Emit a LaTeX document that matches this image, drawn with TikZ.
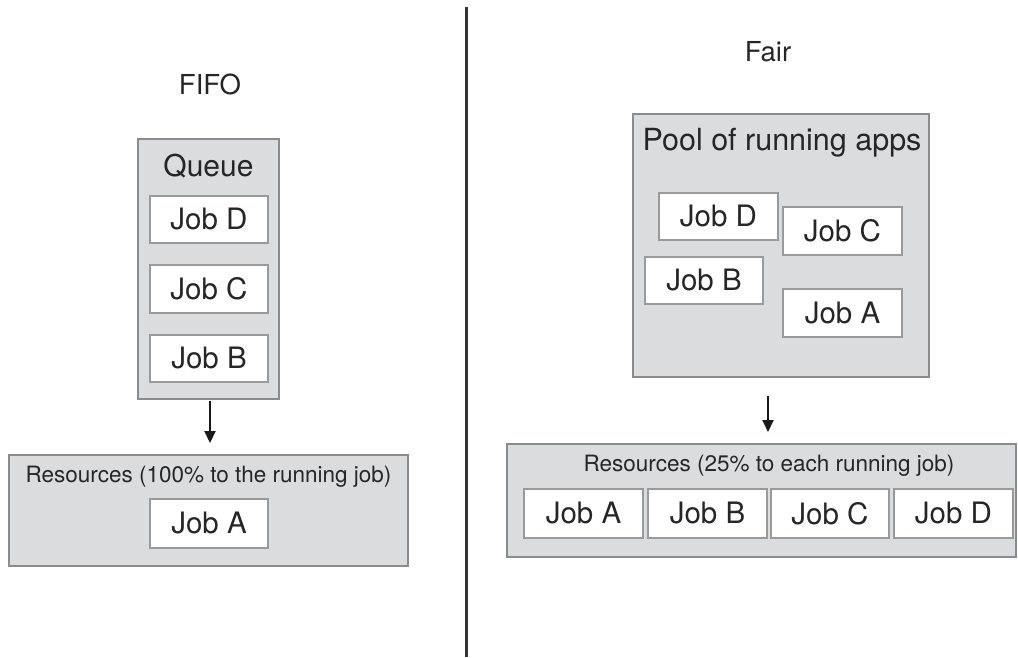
\documentclass[tikz,border=0pt]{standalone}
\usepackage{fontspec}
\setmainfont{TeX Gyre Heros}
\usetikzlibrary{arrows.meta}
\definecolor{boxfill}{HTML}{DADCDE}
\definecolor{boxline}{HTML}{8A8B8C}
\definecolor{jobline}{HTML}{9A9A9A}
\definecolor{txt}{HTML}{262626}
\tikzset{
  grp/.style={draw=boxline, fill=boxfill, line width=2pt, inner sep=0pt, rectangle},
  job/.style={draw=jobline, fill=white, line width=2pt, inner sep=0pt, rectangle, text=txt,
    font=\fontsize{29.5}{32}\selectfont},
  lbl/.style={inner sep=0pt, text=txt},
  arr/.style={line width=2pt, draw=black!90, -{Triangle[length=12pt,width=11pt]}},
}
\begin{document}
\begin{tikzpicture}[x=1pt,y=-1pt]
\useasboundingbox (0,0) rectangle (1018,657);
% divider
\draw[line width=3pt, draw=black!80] (466.5,7) coordinate (dtop) -- (466.5,657) coordinate (dbot);
% titles
\node[lbl, font=\fontsize{27.5}{30}\selectfont] (fifo) at (210,84) {FIFO};
\node[lbl, font=\fontsize{27.5}{30}\selectfont] (fair) at (768,52) {Fair};
% left: queue
\node[grp, minimum width=141pt, minimum height=260pt] (queue) at (208.5,269) {};
\node[lbl, font=\fontsize{30}{32}\selectfont] (qlbl) at (208.5,166) {Queue};
\node[job, minimum width=118pt, minimum height=47pt] (lD) at (209,219.5) {Job D};
\node[job, minimum width=118pt, minimum height=48pt] (lC) at (209,289) {Job C};
\node[job, minimum width=118pt, minimum height=47pt] (lB) at (209,358.5) {Job B};
% left: resources
\node[grp, minimum width=399pt, minimum height=111pt] (res1) at (208.5,510.5) {};
\node[lbl, font=\fontsize{22.5}{24}\selectfont] (r1lbl) at (208.5,477) {Resources (100\% to the running job)};
\node[job, minimum width=118pt, minimum height=49pt] (lA) at (209,523.5) {Job A};
\draw[arr, shorten <=1pt, shorten >=11pt] ([xshift=1.5pt]queue.south) -- ([xshift=1.5pt]queue.south |- res1.north);
% right: pool
\node[grp, minimum width=296pt, minimum height=263pt] (pool) at (781,245.5) {};
\node[lbl, font=\fontsize{30.5}{32}\selectfont] (plbl) at (782,143) {Pool of running apps};
\node[job, minimum width=119pt, minimum height=47pt] (pD) at (718.5,216.5) {Job D};
\node[job, minimum width=119pt, minimum height=48pt] (pC) at (842.5,231) {Job C};
\node[job, minimum width=118pt, minimum height=47pt] (pB) at (704,280.5) {Job B};
\node[job, minimum width=119pt, minimum height=48pt] (pA) at (842.5,313) {Job A};
% right: resources
\node[grp, minimum width=509pt, minimum height=113pt] (res2) at (761.5,500.5) {};
\node[lbl, font=\fontsize{22.5}{24}\selectfont] (r2lbl) at (769,466) {Resources (25\% to each running job)};
\node[job, minimum width=119pt, minimum height=49pt] (rA) at (583.5,513.5) {Job A};
\node[job, minimum width=119pt, minimum height=49pt] (rB) at (707.5,513.5) {Job B};
\node[job, minimum width=118pt, minimum height=49pt] (rC) at (830,513.5) {Job C};
\node[job, minimum width=119pt, minimum height=49pt] (rD) at (953.5,513.5) {Job D};
\draw[arr, shorten <=18pt, shorten >=11pt] ([xshift=-13pt]pool.south) -- ([xshift=-13pt]pool.south |- res2.north);
\end{tikzpicture}
\end{document}
